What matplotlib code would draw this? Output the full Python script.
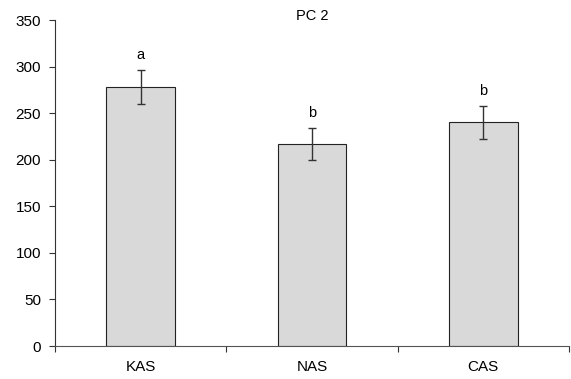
import matplotlib
matplotlib.use("Agg")
import matplotlib.pyplot as plt
import numpy as np

categories = ["KAS", "NAS", "CAS"]
values = [278, 217, 240]
errors = [18, 17.5, 18]
letters = ["a", "b", "b"]
title = "PC 2"
yticks = [0, 50, 100, 150, 200, 250, 300, 350]

plt.rcParams['font.family'] = ['Liberation Sans', 'DejaVu Sans']
fig = plt.figure(figsize=(5.71, 3.79), dpi=100)
ax = fig.add_axes([55/571, 1-346/379, 514/571, 326/379])

x = np.arange(len(categories))
ax.bar(x, values, width=0.4, color="#d9d9d9", edgecolor="#222222", linewidth=0.8, zorder=2)
ax.errorbar(x, values, yerr=errors, fmt="none", ecolor="#333333", elinewidth=1.0,
            capsize=2.7, capthick=1.0, zorder=3)
for xi, v, e, l in zip(x, values, errors, letters):
    ax.text(xi, v + e + 16, l, ha="center", va="center", fontsize=10.5)

ax.set_xlim(-0.5, len(categories) - 0.5)
ax.set_ylim(0, 350)
ax.set_yticks(yticks)
ax.set_yticklabels([str(t) for t in yticks], fontsize=11)
ax.set_xticks(x)
ax.set_xticklabels(categories, fontsize=11)
ax.tick_params(axis="x", length=0, pad=10)
ax.set_xticks(np.arange(-0.5, len(categories)), minor=True)
ax.tick_params(axis="x", which="minor", length=4, width=0.8, color="#333333", direction="out")
ax.tick_params(axis="y", length=4, width=0.8, color="#333333", direction="out", pad=6)
for s in ["top", "right"]:
    ax.spines[s].set_visible(False)
ax.spines["left"].set_color("#333333")
ax.spines["bottom"].set_color("#555555")
ax.spines["left"].set_linewidth(0.8)
ax.spines["bottom"].set_linewidth(0.8)

fig.text(312/571, 1-16/379, title, ha="center", va="center", fontsize=10.5)

fig.savefig("out.png", dpi=100)
